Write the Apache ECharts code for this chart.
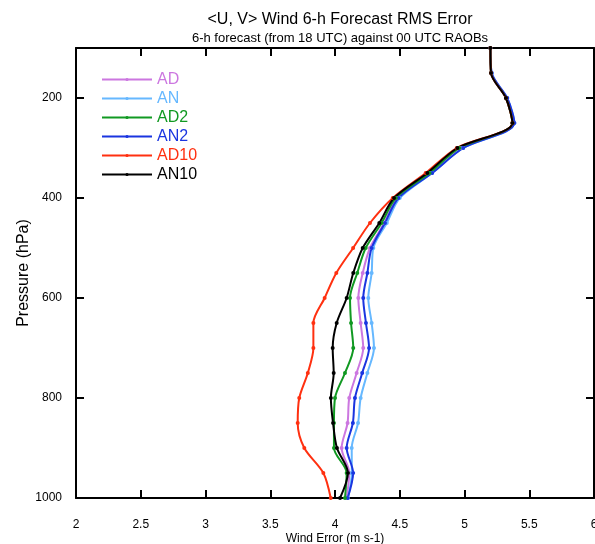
<!DOCTYPE html>
<html>
<head>
<meta charset="utf-8">
<script src="https://cdn.jsdelivr.net/npm/echarts@6/dist/echarts.min.js"></script>
<style>html,body{margin:0;padding:0;background:#fff;}#c{width:595px;height:544px;}</style>
</head>
<body>
<div id="c"></div>
<script>
const levels = [100,150,200,250,300,350,400,450,500,550,600,650,700,750,800,850,900,950,1000];
const AD   = [5.20,5.205,5.32,5.375,4.97,4.74,4.48,4.38,4.27,4.214,4.18,4.198,4.218,4.167,4.11,4.097,4.051,4.11,4.09];
const AN   = [5.20,5.21,5.33,5.385,4.99,4.75,4.50,4.40,4.296,4.283,4.257,4.283,4.301,4.25,4.198,4.178,4.129,4.13,4.10];
const AD2  = [5.20,5.205,5.32,5.37,4.96,4.73,4.47,4.36,4.237,4.172,4.116,4.124,4.141,4.077,4.0,3.992,3.992,4.09,4.077];
const AN2  = [5.20,5.21,5.33,5.385,4.99,4.75,4.49,4.386,4.283,4.25,4.218,4.239,4.263,4.21,4.154,4.138,4.09,4.14,4.098];
const AD10 = [5.20,5.205,5.32,5.37,4.94,4.70,4.446,4.27,4.14,4.01,3.92,3.833,3.833,3.79,3.724,3.712,3.763,3.91,3.967];
const AN10 = [5.20,5.205,5.32,5.37,4.945,4.713,4.456,4.342,4.214,4.141,4.09,4.013,3.982,3.99,3.968,3.985,4.015,4.10,4.039];
const yTicks = [200,400,600,800,1000];
const seriesNames = ['AD','AN','AD2','AN2','AD10','AN10'];
const seriesColors = {AD:'#cc77e0', AN:'#66b8ff', AD2:'#119922', AN2:'#1a35e0', AD10:'#ff3010', AN10:'#000000'};
const seriesValues = {AD, AN, AD2, AN2, AD10, AN10};
const drawOrder = ['AD','AN','AN2','AD2','AD10','AN10'];

const FONT = 'Liberation Sans';
const chart = echarts.init(document.getElementById('c'), null, {renderer:'canvas'});

const series = drawOrder.map(n => ({
  name: n,
  type: 'line',
  data: seriesValues[n].map((v, i) => [v, levels[i]]),
  smooth: 0.3,
  symbol: 'circle',
  symbolSize: 4,
  showSymbol: true,
  lineStyle: {width: 2, color: seriesColors[n]},
  itemStyle: {color: seriesColors[n]},
  emphasis: {disabled: true},
  animation: false
}));

const axisLineStyle = {show: true, lineStyle: {color: '#000', width: 2}};
chart.setOption({
  animation: false,
  title: [
    {text: '<U, V> Wind 6-h Forecast RMS Error', left: 335, top: 7, textAlign: 'center',
     textStyle: {fontFamily: FONT, fontSize: 16, fontWeight: 'normal', color: '#000'}},
    {text: '6-h forecast (from 18 UTC) against 00 UTC RAOBs', left: 335, top: 27, textAlign: 'center',
     textStyle: {fontFamily: FONT, fontSize: 13, fontWeight: 'normal', color: '#000'}}
  ],
  legend: {
    orient: 'vertical',
    left: 101, top: 70, padding: 0,
    itemWidth: 50, itemHeight: 4, itemGap: 0,
    textStyle: {fontFamily: FONT, fontSize: 16, lineHeight: 19},
    data: seriesNames.map(n => ({name: n, textStyle: {color: seriesColors[n]}})),
    selectedMode: false
  },
  grid: {left: 76, right: 1, top: 48, bottom: 46, containLabel: false, outerBoundsMode: 'none'},
  xAxis: [
    {type: 'value', min: 2, max: 6, interval: 0.5, position: 'bottom',
     name: 'Wind Error (m s-1)', nameLocation: 'middle', nameGap: 35, nameMoveOverlap: false,
     nameTextStyle: {fontFamily: FONT, fontSize: 12, color: '#000'},
     axisLine: axisLineStyle,
     axisTick: {show: true, inside: true, length: 8, lineStyle: {color: '#000', width: 2}},
     axisLabel: {fontFamily: FONT, fontSize: 12, color: '#000', margin: 21, hideOverlap: false,
                 formatter: v => String(v)},
     splitLine: {show: false}},
    {type: 'value', min: 2, max: 6, interval: 0.5, position: 'top',
     axisLine: axisLineStyle,
     axisTick: {show: true, inside: true, length: 8, lineStyle: {color: '#000', width: 2}},
     axisLabel: {show: false}, splitLine: {show: false}}
  ],
  yAxis: [
    {type: 'value', min: 100, max: 1000, inverse: true, position: 'left',
     name: 'Pressure (hPa)', nameLocation: 'middle', nameGap: 44, nameMoveOverlap: false,
     nameTextStyle: {fontFamily: FONT, fontSize: 16, color: '#000'},
     axisLine: axisLineStyle,
     axisTick: {show: true, inside: true, length: 8, customValues: yTicks, lineStyle: {color: '#000', width: 2}},
     axisLabel: {fontFamily: FONT, fontSize: 12, color: '#000', margin: 14, customValues: yTicks,
                 formatter: v => String(v)},
     splitLine: {show: false}},
    {type: 'value', min: 100, max: 1000, inverse: true, position: 'right',
     axisLine: axisLineStyle,
     axisTick: {show: true, inside: true, length: 8, customValues: yTicks, lineStyle: {color: '#000', width: 2}},
     axisLabel: {show: false}, splitLine: {show: false}}
  ],
  series: series
});
</script>
</body>
</html>
